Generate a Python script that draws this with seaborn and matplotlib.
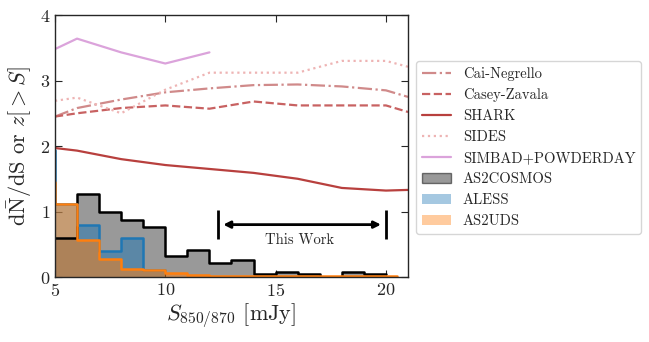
import numpy as np
import pandas as pd
import matplotlib
matplotlib.use("Agg")
import matplotlib.pyplot as plt
import seaborn as sns
from matplotlib.patches import Patch

# model curves (flux, value)
cai_x = [5, 6, 8, 10, 12, 14, 16, 18, 20, 21]
cai_y = [2.45, 2.58, 2.71, 2.82, 2.88, 2.93, 2.94, 2.91, 2.85, 2.75]
casey_x = [5, 6, 8, 10, 12, 14, 16, 18, 20, 21]
casey_y = [2.45, 2.50, 2.58, 2.62, 2.57, 2.68, 2.62, 2.62, 2.62, 2.52]
shark_x = [5, 6, 8, 10, 12, 14, 16, 18, 20, 21]
shark_y = [1.97, 1.93, 1.80, 1.71, 1.65, 1.59, 1.50, 1.36, 1.32, 1.33]
sides_x = [5, 6, 8, 10, 12, 14, 16, 18, 20, 21]
sides_y = [2.69, 2.74, 2.50, 2.86, 3.12, 3.12, 3.12, 3.30, 3.30, 3.21]
simbad_x = [5, 6, 8, 10, 12]
simbad_y = [3.48, 3.64, 3.43, 3.26, 3.43]

# observed histograms (bin edges, heights)
cosmos_edges = [5, 6, 7, 8, 9, 10, 11, 12, 13, 14, 15, 16, 17, 18, 19, 20]
cosmos_vals = [0.60, 1.27, 1.00, 0.87, 0.76, 0.32, 0.42, 0.22, 0.26, 0.045, 0.08, 0.04, 0.0, 0.08, 0.04]
aless_edges = [4, 5, 6, 7, 8, 9, 10]
aless_vals = [1.94, 1.12, 0.79, 0.40, 0.60, 0.11]
uds_edges = [4, 5, 6, 7, 8, 9, 10, 11, 12, 13, 14, 15, 16, 17, 18, 19, 20, 20.5]
uds_vals = [1.45, 1.12, 0.56, 0.27, 0.12, 0.10, 0.066, 0.035, 0.012, 0.012, 0.008, 0.008, 0.008, 0.008, 0.008, 0.008, 0.008]

sns.set_style("ticks")
plt.rcParams["font.family"] = "serif"
plt.rcParams["font.serif"] = ["cmr10"]
plt.rcParams["mathtext.fontset"] = "cm"
plt.rcParams["axes.formatter.use_mathtext"] = True
plt.rcParams["axes.unicode_minus"] = False

fig = plt.figure(figsize=(6.49, 3.42), dpi=100)
ax = fig.add_axes([0.0847, 0.19, 0.5440, 0.766])

sns.lineplot(x=cai_x, y=cai_y, ax=ax, color="#d08a8a", lw=1.6, ls="-.", label="Cai-Negrello")
sns.lineplot(x=casey_x, y=casey_y, ax=ax, color="#c86262", lw=1.6, ls="--", label="Casey-Zavala")
sns.lineplot(x=shark_x, y=shark_y, ax=ax, color="#b8403e", lw=1.6, ls="-", label="SHARK")
sns.lineplot(x=sides_x, y=sides_y, ax=ax, color="#eeb4b4", lw=1.6, ls=":", label="SIDES")
sns.lineplot(x=simbad_x, y=simbad_y, ax=ax, color="#dba3db", lw=1.6, ls="-", label="SIMBAD+POWDERDAY")


def centers(edges):
    e = np.array(edges, dtype=float)
    return (e[:-1] + e[1:]) / 2


hists = [
    (cosmos_edges, cosmos_vals, "k", 0.4, "AS2COSMOS"),
    (aless_edges, aless_vals, "tab:blue", 0.5, "ALESS"),
    (uds_edges, uds_vals, "tab:orange", 0.5, "AS2UDS"),
]
for edges, vals, col, a, lab in hists:
    sns.histplot(x=centers(edges), weights=vals, bins=edges, element="step", fill=True,
                 color=col, alpha=a, linewidth=0, ax=ax)
    sns.histplot(x=centers(edges), weights=vals, bins=edges, element="step", fill=False,
                 color=col, linewidth=1.8, ax=ax)

# "This Work" range
ax.vlines([12.4, 20.0], 0.58, 1.02, color="k", lw=2)
ax.annotate("", xy=(12.5, 0.8), xytext=(19.9, 0.8),
            arrowprops=dict(arrowstyle="<|-|>", color="k", lw=2, mutation_scale=10))
ax.text(16.1, 0.57, "This Work", ha="center", va="center", fontsize=10.5)

ax.set_xlim(5, 21)
ax.set_ylim(0, 4)
ax.set_xticks([5, 10, 15, 20])
ax.set_yticks([0, 1, 2, 3, 4])
ax.tick_params(direction="in", top=True, right=True, labelsize=13, length=5)
for s in ax.spines.values():
    s.set_linewidth(1.0)
ax.set_xlabel(r"$S_{850/870}$ [mJy]", fontsize=16, labelpad=2)
ax.set_ylabel(r"$\mathrm{d\bar{N}/dS}$ or $z[>S]$", fontsize=16, labelpad=4)

handles = list(ax.get_lines()[:5])
labels = ["Cai-Negrello", "Casey-Zavala", "SHARK", "SIDES", "SIMBAD+POWDERDAY"]
handles += [
    Patch(facecolor=(0, 0, 0, 0.4), edgecolor=(0, 0, 0, 0.5), lw=1),
    Patch(facecolor=matplotlib.colors.to_rgba("tab:blue", 0.4), edgecolor="none"),
    Patch(facecolor=matplotlib.colors.to_rgba("tab:orange", 0.4), edgecolor="none"),
]
labels += ["AS2COSMOS", "ALESS", "AS2UDS"]
ax.legend(handles, labels, loc="upper left", bbox_to_anchor=(1.023, 0.824),
          borderaxespad=0, fontsize=10.5, frameon=True)

fig.savefig("out.png", dpi=100)
